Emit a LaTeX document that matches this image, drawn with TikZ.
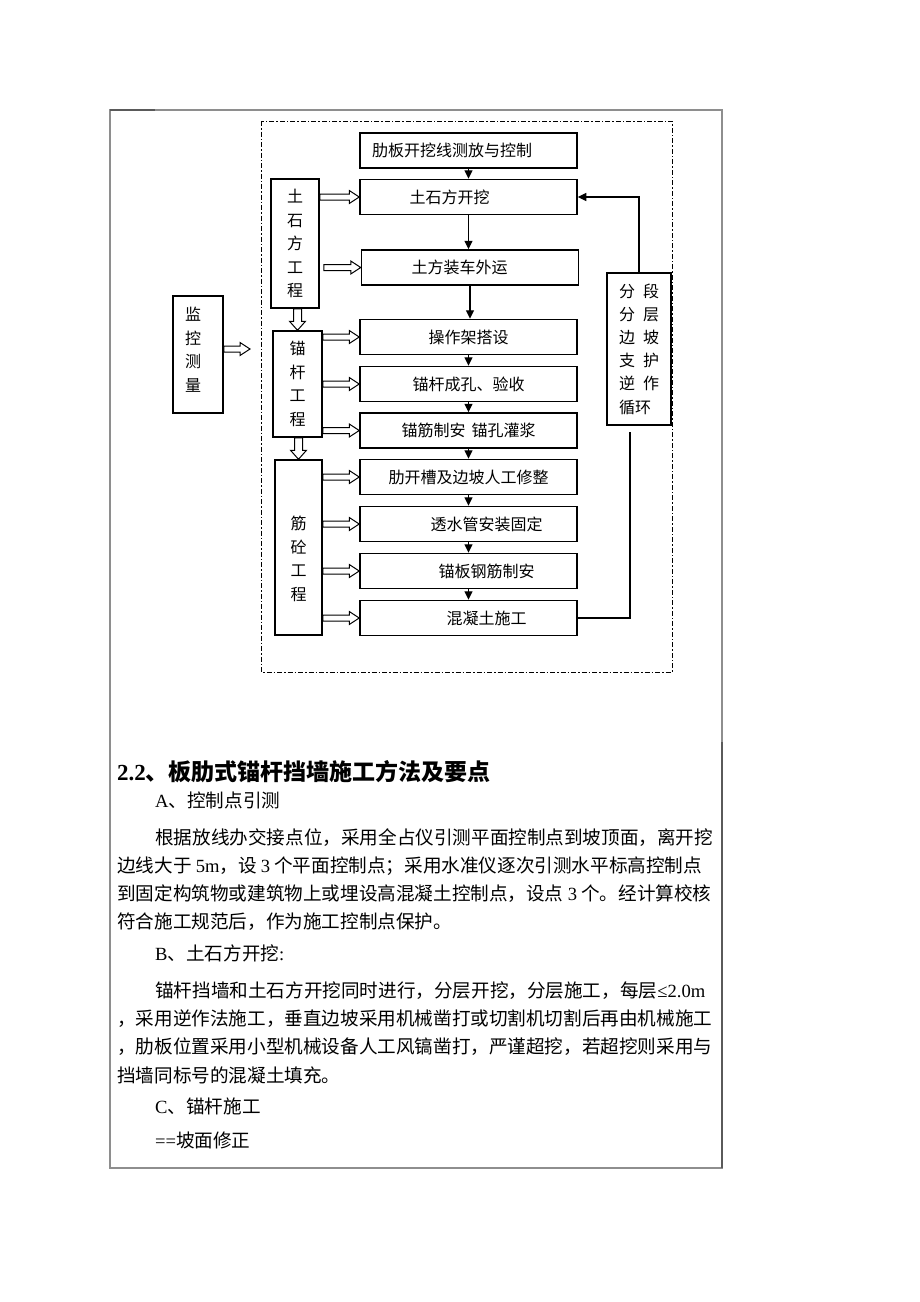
\documentclass[tikz,border=0pt]{standalone}
\usepackage{fontspec}
\setmainfont{Liberation Serif}
\newfontfamily\cjk{Noto Sans CJK SC}
\usetikzlibrary{arrows.meta,calc}

\definecolor{framegray}{HTML}{8E8E8E}
\definecolor{framedark}{HTML}{5A5A5A}

\newcommand\en[1]{{\rmfamily #1}}

\tikzset{
  stepbox/.style={draw, line width=1.5pt, minimum width=217pt, minimum height=35pt,
    inner sep=0pt, font=\cjk\fontsize{16}{19}\selectfont},
  sidebox/.style={draw, line width=1.5pt, inner sep=0pt},
  vtxt/.style={align=center, inner sep=0pt, font=\cjk\fontsize{16}{23.5}\selectfont},
  tx/.style={execute at begin node={\hspace*{#1}}},
  flow/.style={line width=1.2pt, -{Triangle[length=8.5pt,width=8pt]}},
  hollowr/.style={line width=1pt, to path={let \p1=(\tikztostart), \p2=(\tikztotarget) in
    (\x1,\y1+3pt) -- (\x2-10pt,\y1+3pt) -- (\x2-10pt,\y1+6.5pt) -- (\x2,\y1)
    -- (\x2-10pt,\y1-6.5pt) -- (\x2-10pt,\y1-3pt) -- (\x1,\y1-3pt) -- cycle}},
  hollowd/.style={line width=1pt, to path={let \p1=(\tikztostart), \p2=(\tikztotarget) in
    (\x1-4pt,\y1) -- (\x1-4pt,\y2+9pt) -- (\x1-8pt,\y2+9pt) -- (\x1,\y2)
    -- (\x1+8pt,\y2+9pt) -- (\x1+4pt,\y2+9pt) -- (\x1+4pt,\y1) -- cycle}},
  headline/.style={anchor=west, inner sep=0pt, font=\fontsize{23}{28}\selectfont\bfseries},
  para/.style={anchor=west, inner sep=0pt, font=\cjk\fontsize{18.6}{22}\selectfont},
}

\begin{document}
\begin{tikzpicture}[x=1pt, y=-1pt]
    \useasboundingbox (0,0) rectangle (920,1302);
    \fill[white] (0,0) rectangle (920,1302);

    % page frame
    \draw[framegray, line width=1.2pt] (110,110) rectangle (722,1168);
    \draw[framedark, line width=1.6pt] (110,110) -- (155,110);
    \draw[framedark, line width=1.4pt] (722,742) -- (722,1168);

    % dash-dot frame
    \draw[line width=1pt, dash pattern=on 5pt off 2pt on 1.5pt off 2pt] (261,121) rectangle (672,672);

    % main steps
    \node[stepbox, tx=-33pt] (b1) at (468.5,150.5) {肋板开挖线测放与控制};
    \node[stepbox, tx=-38pt] (b2) at (468.5,197) {土石方开挖};
    \node[stepbox, tx=-21pt] (b3) at (470,267.5) {土方装车外运};
    \node[stepbox] (b4) at (468.5,337) {操作架搭设};
    \node[stepbox] (b5) at (468.5,384) {锚杆成孔、验收};
    \node[stepbox] (b6) at (468.5,430.5) {锚筋制安\hspace{6pt}锚孔灌浆};
    \node[stepbox] (b7) at (468.5,477) {肋开槽及边坡人工修整};
    \node[stepbox, tx=36pt] (b8) at (468.5,524) {透水管安装固定};
    \node[stepbox, tx=36pt] (b9) at (468.5,571) {锚板钢筋制安};
    \node[stepbox, tx=36pt] (b10) at (468.5,618) {混凝土施工};

    % side groups
    \node[sidebox, vtxt, minimum width=48pt, minimum height=129pt] (g1) at (295,243.5) {土\\石\\方\\工\\程};
    \node[sidebox, vtxt, minimum width=49pt, minimum height=106pt] (g2) at (297.5,384) {锚\\杆\\工\\程};
    \node[sidebox, minimum width=47pt, minimum height=175pt] (g3) at (298.5,547.5) {};
    \node[vtxt] (g3-txt) at (298.5,559) {筋\\砼\\工\\程};
    \node[sidebox, minimum width=50pt, minimum height=117pt] (m) at (198,354.5) {};
    \node[vtxt] (m-txt) at (193,349.5) {监\\控\\测\\量};
    \coordinate (m-tip) at (250,349);
    \node[sidebox, minimum width=64pt, minimum height=152pt, align=left,
      font=\cjk\fontsize{16}{23.2}\selectfont] (loop) at (639,349)
      {分\hspace{8pt}段\\分\hspace{8pt}层\\边\hspace{8pt}坡\\支\hspace{8pt}护\\逆\hspace{8pt}作\\循环};
    \coordinate (fb) at ([xshift=-9pt, yshift=-6pt]loop.south);

    % flow
    \draw[flow] (b1.south) -- (b2.north);
    \draw[flow] (b2.south) -- (b2.south |- b3.north);
    \draw[flow] (b3.south) -- (b3.south |- b4.north);
    \draw[flow] (b4.south) -- (b5.north);
    \draw[flow] (b5.south) -- (b6.north);
    \draw[flow] (b6.south) -- (b7.north);
    \draw[flow] (b7.south) -- (b8.north);
    \draw[flow] (b8.south) -- (b9.north);
    \draw[flow] (b9.south) -- (b10.north);

    % loop back
    \draw[line width=1.1pt] ([xshift=-2pt]b10.east) -| (fb);
    \draw[flow] (loop.north) |- (b2.east);

    % hollow arrows
    \draw[hollowr] (g1.east |- b2) to (b2.west);
    \draw[hollowr] ([xshift=4pt]g1.east |- b3) to (b3.west);
    \draw[hollowr] (g2.east |- b4) to (b4.west);
    \draw[hollowr] (g2.east |- b5) to (b5.west);
    \draw[hollowr] (g2.east |- b6) to (b6.west);
    \draw[hollowr] (g3.east |- b7) to (b7.west);
    \draw[hollowr] (g3.east |- b8) to (b8.west);
    \draw[hollowr] (g3.east |- b9) to (b9.west);
    \draw[hollowr] (g3.east |- b10) to (b10.west);
    \draw[hollowr] (m.east |- m-tip) to (m-tip);
    \draw[hollowd] (g2.north |- g1.south) to (g2.north);
    \draw[hollowd] (g3.north |- g2.south) to (g3.north);

    % text below
    \node[headline] (h) at (117,772) {2.2{\cjk 、板肋式锚杆挡墙施工方法及要点}};
    \node[para] (a) at (155,800) {\en{A}、控制点引测};
    \node[para] (p1) at (155,838) {根据放线办交接点位，采用全占仪引测平面控制点到坡顶面，离开挖};
    \node[para] (p2) at (117,866) {边线大于~\en{5m}，设~\en{3}~个平面控制点；采用水准仪逐次引测水平标高控制点};
    \node[para] (p3) at (117,894) {到固定构筑物或建筑物上或埋设高混凝土控制点，设点~\en{3}~个。经计算校核};
    \node[para] (p4) at (117,922) {符合施工规范后，作为施工控制点保护。};
    \node[para] (bb) at (155,953) {\en{B}、土石方开挖\en{:}};
    \node[para] (q1) at (155,991) {锚杆挡墙和土石方开挖同时进行，分层开挖，分层施工，每层\en{≤2.0m}};
    \node[para] (q2) at (117,1019) {，采用逆作法施工，垂直边坡采用机械凿打或切割机切割后再由机械施工};
    \node[para] (q3) at (117,1047) {，肋板位置采用小型机械设备人工风镐凿打，严谨超挖，若超挖则采用与};
    \node[para] (q4) at (117,1075) {挡墙同标号的混凝土填充。};
    \node[para] (cc) at (155,1106) {\en{C}、锚杆施工};
    \node[para] (dd) at (155,1140) {\en{==}坡面修正};
\end{tikzpicture}
\end{document}
